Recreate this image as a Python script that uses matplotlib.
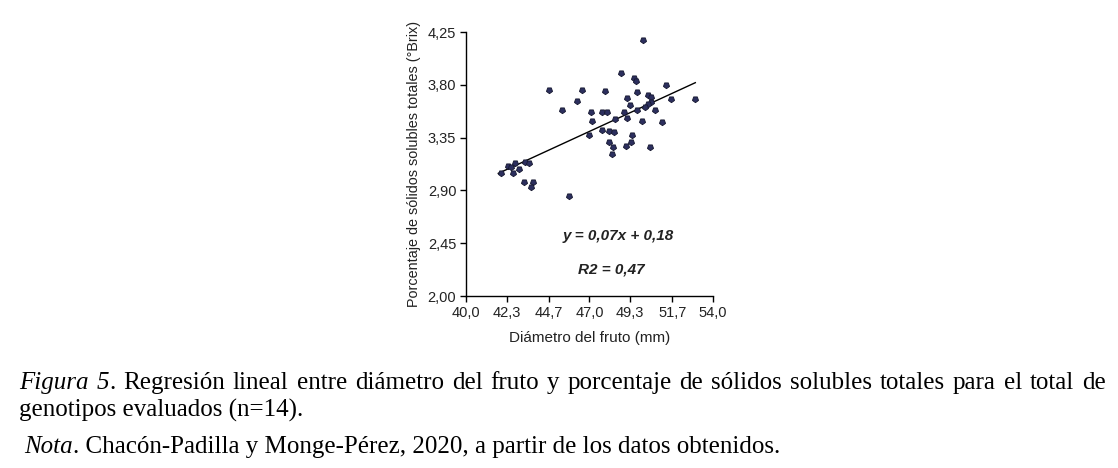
import numpy as np
import matplotlib
matplotlib.use("Agg")
import matplotlib.pyplot as plt

# fruit diameter (mm) vs total soluble solids (°Brix)
diam = [50.04, 48.80, 49.50, 49.64, 51.36, 53.00, 44.70, 46.60, 47.87, 46.30,
        49.68, 50.30, 50.50, 49.13, 51.60, 49.30, 45.46, 47.06, 47.72, 48.00,
        48.98, 49.70, 50.49, 50.32, 50.13, 50.70, 48.42, 49.13, 47.14, 49.98,
        51.13, 46.99, 47.72, 48.10, 48.38, 49.40, 48.10, 48.34, 49.38, 49.08,
        50.45, 48.25, 41.98, 42.39, 42.58, 42.77, 42.64, 43.00, 43.35, 43.58,
        43.30, 43.82, 43.67, 45.84]
brix = [4.18, 3.90, 3.86, 3.835, 3.80, 3.68, 3.756, 3.756, 3.75, 3.665,
        3.736, 3.71, 3.70, 3.69, 3.676, 3.63, 3.585, 3.568, 3.565, 3.565,
        3.565, 3.585, 3.653, 3.633, 3.613, 3.585, 3.51, 3.52, 3.494, 3.494,
        3.48, 3.372, 3.415, 3.41, 3.40, 3.372, 3.31, 3.267, 3.31, 3.278,
        3.267, 3.21, 3.045, 3.11, 3.10, 3.136, 3.045, 3.08, 3.14, 3.13,
        2.974, 2.974, 2.927, 2.855]

# trend line as drawn in the figure
slope, intercept = 0.0692, 0.1505
line_x = [41.83, 53.0]

x_ticks = [40.0, 42.3, 44.7, 47.0, 49.3, 51.7, 54.0]
y_ticks = [2.00, 2.45, 2.90, 3.35, 3.80, 4.25]

eq_text = "y = 0,07x + 0,18"
r2_text = "R2 = 0,47"

fig = plt.figure(figsize=(11.18, 4.68), dpi=100)
ax = fig.add_axes([0.4168, 0.3675, 0.2209, 0.5641])

sans = ["Liberation Sans", "DejaVu Sans"]
serif = ["Liberation Serif", "DejaVu Serif"]

ax.plot(diam, brix, linestyle="none", marker=(5, 0, 180), ms=4.6,
        color="#2c2f5e", mec="#15172e", mew=0.6, zorder=3)
lx = np.array(line_x)
ax.plot(lx, slope * lx + intercept, color="black", lw=1.0, zorder=2)

ax.set_xlim(40, 54)
ax.set_ylim(2.0, 4.25)
ax.set_xticks(x_ticks)
ax.set_yticks(y_ticks)
ax.set_xticklabels([f"{v:.1f}".replace(".", ",") for v in x_ticks],
                   family=sans, fontsize=10.5, color="#222222")
ax.set_yticklabels([f"{v:.2f}".replace(".", ",") for v in y_ticks],
                   family=sans, fontsize=10.5, color="#222222")
ax.tick_params(direction="out", length=4, width=1, pad=3)
for s in ["top", "right"]:
    ax.spines[s].set_visible(False)
for s in ["left", "bottom"]:
    ax.spines[s].set_linewidth(1.0)

ax.set_xlabel("Diámetro del fruto (mm)", family=sans, fontsize=11,
              color="#222222", labelpad=8)
ax.set_ylabel("Porcentaje de sólidos solubles totales (°Brix)", family=sans,
              fontsize=10.4, color="#222222", labelpad=5)

ax.text(48.64, 2.511, eq_text, family=sans, fontsize=11, fontweight="bold",
        fontstyle="italic", ha="center", va="center", color="#222222")
ax.text(48.25, 2.229, r2_text, family=sans, fontsize=11, fontweight="bold",
        fontstyle="italic", ha="center", va="center", color="#222222")

# caption below the chart
renderer = fig.canvas.get_renderer()
CAP = 18


def seg_width(txt, style, size):
    t = fig.text(0, 0, txt, family=serif, fontsize=size, fontstyle=style)
    w = t.get_window_extent(renderer).width
    t.remove()
    return w


def run_text(x_px, y_px, parts, size=CAP):
    x = x_px
    for txt, style in parts:
        t = fig.text(x / 1118, 1 - y_px / 468, txt, family=serif, fontsize=size,
                     fontstyle=style, va="baseline", ha="left", color="black")
        x += t.get_window_extent(renderer).width
    return x


def justified(x_px, y_px, width_px, words, size=CAP):
    # words: list of words, each a list of (text, style) pieces
    widths = [sum(seg_width(t, s, size) for t, s in w) for w in words]
    gap = (width_px - sum(widths)) / (len(words) - 1)
    x = x_px
    for w, wd in zip(words, widths):
        run_text(x, y_px, w, size)
        x += wd + gap


line1 = [[("Figura", "italic")], [("5", "italic"), (".", "normal")]]
line1 += [[(w, "normal")] for w in
          "Regresión lineal entre diámetro del fruto y porcentaje de sólidos "
          "solubles totales para el total de".split()]
justified(19, 389, 1087, line1)
run_text(19, 417, [("genotipos evaluados (n=14).", "normal")])
run_text(24, 453, [("Nota", "italic"),
                   (". Chacón-Padilla y Monge-Pérez, 2020, a partir de los datos "
                    "obtenidos.", "normal")])

fig.savefig("out.png", dpi=100)
